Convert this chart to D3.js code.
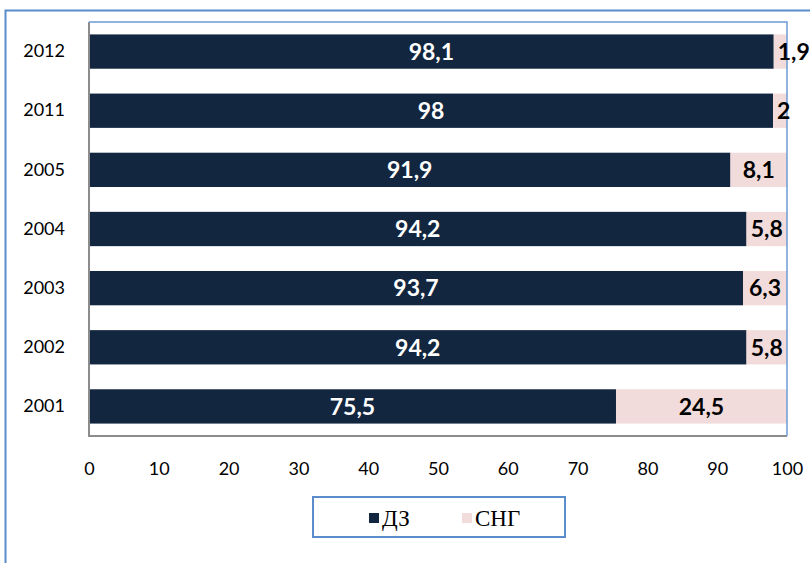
<!DOCTYPE html>
<html>
<head>
<meta charset="utf-8">
<script src="https://cdn.jsdelivr.net/npm/d3@7"></script>
<style>
  body { margin: 0; background: #fff; }
  svg { display: block; }
</style>
</head>
<body>
<div id="chart"></div>
<script>
// data
const years = ["2012", "2011", "2005", "2004", "2003", "2002", "2001"];
const dz = [98.1, 98, 91.9, 94.2, 93.7, 94.2, 75.5];
const sng = [1.9, 2, 8.1, 5.8, 6.3, 5.8, 24.5];
const seriesNames = ["ДЗ", "СНГ"];
const xTicks = [0, 10, 20, 30, 40, 50, 60, 70, 80, 90, 100];

const colors = ["#12263f", "#f2dcdb"];
const fmt = v => String(v).replace(".", ",");

const dim = { width: 810, height: 563 };
const plot = { left: 89, top: 22, right: 787, bottom: 436 };

const svg = d3.select("#chart").append("svg")
    .attr("width", dim.width)
    .attr("height", dim.height);

// outer frame (only top and left visible)
svg.append("path")
    .attr("d", `M5.5,${dim.height} V10.5 H${dim.width}`)
    .attr("fill", "none")
    .attr("stroke", "#5b8ccb")
    .attr("stroke-width", 2);

const x = d3.scaleLinear().domain([0, 100]).range([plot.left, plot.right]);
const y = d3.scaleBand().domain(years).range([plot.top, plot.bottom]).paddingInner(0.42).paddingOuter(0.21);

const rows = years.map((yr, i) => ({ year: yr, dz: dz[i], sng: sng[i] }));
const stacked = d3.stack().keys(["dz", "sng"])(rows);

// bars
const groups = svg.selectAll("g.serie").data(stacked).enter()
    .append("g").attr("class", "serie")
    .attr("fill", (d, i) => colors[i]);

groups.selectAll("rect").data(d => d).enter().append("rect")
    .attr("x", d => x(d[0]))
    .attr("y", d => y(d.data.year))
    .attr("width", d => x(d[1]) - x(d[0]))
    .attr("height", y.bandwidth());

// plot border: left/bottom gray, top/right blue
svg.append("path")
    .attr("d", `M${plot.left},${plot.top} V${plot.bottom} H${plot.right}`)
    .attr("fill", "none").attr("stroke", "#8c8c8c").attr("stroke-width", 2);
svg.append("path")
    .attr("d", `M${plot.left},${plot.top} H${plot.right} V${plot.bottom}`)
    .attr("fill", "none").attr("stroke", "#6d9bd6").attr("stroke-width", 1.5);

// value labels
const labelFont = "Lato, 'Open Sans', sans-serif";
svg.selectAll("text.lbl-dz").data(stacked[0]).enter().append("text")
    .attr("class", "lbl-dz")
    .attr("x", d => (x(d[0]) + x(d[1])) / 2)
    .attr("y", d => y(d.data.year) + y.bandwidth() / 2)
    .attr("dy", "0.36em")
    .attr("text-anchor", "middle")
    .attr("fill", "#fff")
    .style("font", `bold 23px ${labelFont}`)
    .text(d => fmt(d.data.dz));

svg.selectAll("text.lbl-sng").data(stacked[1]).enter().append("text")
    .attr("class", "lbl-sng")
    .attr("y", d => y(d.data.year) + y.bandwidth() / 2)
    .attr("dy", "0.36em")
    .attr("fill", "#000")
    .style("font", `bold 23px ${labelFont}`)
    .text(d => fmt(d.data.sng))
    .each(function (d) {
        const w = this.getComputedTextLength();
        const segW = x(d[1]) - x(d[0]);
        const sel = d3.select(this);
        if (w + 4 > segW) {
            sel.attr("x", x(d[0]) + 4).attr("text-anchor", "start");
        } else {
            sel.attr("x", (x(d[0]) + x(d[1])) / 2).attr("text-anchor", "middle");
        }
    });

// y axis labels
svg.append("g")
    .attr("transform", `translate(${plot.left - 24},0)`)
    .call(d3.axisLeft(y).tickSize(0).tickPadding(0))
    .call(g => g.select(".domain").remove())
    .selectAll("text")
    .attr("fill", "#000")
    .style("font", `18px ${labelFont}`);

// x axis labels
svg.append("g")
    .attr("transform", `translate(0,${plot.bottom + 26})`)
    .call(d3.axisBottom(x).tickValues(xTicks).tickSize(0).tickPadding(0))
    .call(g => g.select(".domain").remove())
    .selectAll("text")
    .attr("fill", "#000")
    .style("font", `18px ${labelFont}`);

// legend
const legend = svg.append("g");
legend.append("rect")
    .attr("x", 313).attr("y", 497).attr("width", 252).attr("height", 40)
    .attr("fill", "#fff").attr("stroke", "#5b8ccb").attr("stroke-width", 2);

const legItems = legend.selectAll("g.leg").data(seriesNames).enter()
    .append("g").attr("class", "leg")
    .attr("transform", (d, i) => `translate(${369 + i * 93},0)`);
legItems.append("rect")
    .attr("x", 0).attr("y", 513).attr("width", 10).attr("height", 10)
    .attr("fill", (d, i) => colors[i]);
legItems.append("text")
    .attr("x", 13).attr("y", 518).attr("dy", "0.35em")
    .attr("fill", "#000")
    .style("font", "23px 'Liberation Serif', 'DejaVu Serif', serif")
    .text(d => d);
</script>
</body>
</html>
